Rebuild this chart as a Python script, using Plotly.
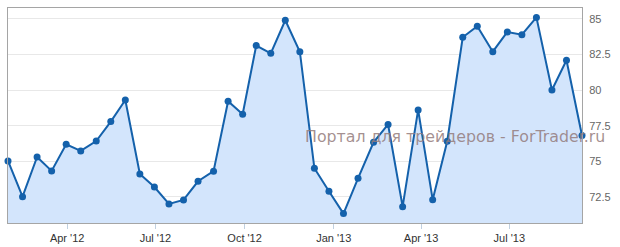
import plotly.graph_objects as go

dates = ["2012-01-31", "2012-02-15", "2012-03-01", "2012-03-16", "2012-03-31",
         "2012-04-15", "2012-05-01", "2012-05-16", "2012-05-31", "2012-06-15",
         "2012-06-30", "2012-07-15", "2012-07-30", "2012-08-14", "2012-08-30",
         "2012-09-14", "2012-09-29", "2012-10-13", "2012-10-28", "2012-11-12",
         "2012-11-27", "2012-12-12", "2012-12-27", "2013-01-11", "2013-01-26",
         "2013-02-11", "2013-02-26", "2013-03-13", "2013-03-29", "2013-04-13",
         "2013-04-28", "2013-05-14", "2013-05-29", "2013-06-14", "2013-06-29",
         "2013-07-14", "2013-07-29", "2013-08-14", "2013-08-29", "2013-09-14"]

values = [75.03, 72.52, 75.31, 74.33, 76.20, 75.73, 76.43, 77.79, 79.31, 74.12,
          73.20, 72.01, 72.29, 73.60, 74.31, 79.22, 78.31, 83.13, 82.59, 84.91,
          82.70, 74.52, 72.90, 71.33, 73.81, 76.34, 77.59, 71.82, 78.61, 72.31,
          76.41, 83.71, 84.49, 82.70, 84.09, 83.90, 85.11, 80.01, 82.10, 76.81]

x_tick_vals = ["2012-04-01", "2012-07-01", "2012-10-01", "2013-01-01", "2013-04-01", "2013-07-01"]
x_tick_text = ["Apr '12", "Jul '12", "Oct '12", "Jan '13", "Apr '13", "Jul '13"]
y_tick_vals = [72.5, 75, 77.5, 80, 82.5, 85]
y_tick_text = ["72.5", "75", "77.5", "80", "82.5", "85"]
y_range = [70.67, 85.77]

watermark = "Портал для трейдеров - ForTrader.ru"

fig = go.Figure()
fig.add_trace(go.Scatter(
    x=dates, y=values, mode="lines+markers",
    line=dict(color="#1461ab", width=2),
    marker=dict(color="#1461ab", size=7),
    fill="tozeroy", fillcolor="#d3e5fc",
    cliponaxis=False, showlegend=False, hoverinfo="x+y",
))

fig.update_layout(
    width=620, height=247,
    margin=dict(l=8, r=38, t=8, b=24, autoexpand=False),
    paper_bgcolor="white", plot_bgcolor="white",
    font=dict(family="Liberation Sans, Arial, sans-serif", size=11, color="#666666"),
    xaxis=dict(
        type="date", range=[dates[0], dates[-1]], automargin=False,
        tickmode="array", tickvals=x_tick_vals, ticktext=x_tick_text,
        ticks="outside", ticklen=5, tickcolor="#c0d0e0", tickwidth=1,
        tickfont=dict(color="#333333", size=11),
        showgrid=False, zeroline=False,
        showline=True, linecolor="#a5a5a5", linewidth=1, mirror=True,
    ),
    yaxis=dict(
        side="right", range=y_range, automargin=False,
        tickmode="array", tickvals=y_tick_vals, ticktext=y_tick_text,
        ticks="", ticklabelstandoff=4,
        tickfont=dict(color="#666666", size=11),
        showgrid=True, gridcolor="#e8e8e8", gridwidth=1, zeroline=False,
        showline=True, linecolor="#a5a5a5", linewidth=1, mirror=True,
    ),
    annotations=[dict(
        text=watermark, xref="paper", yref="paper",
        x=(303 - 8) / 574, y=(223 - 136) / 215, xanchor="left", yanchor="middle",
        showarrow=False,
        font=dict(family="DejaVu Sans, sans-serif", size=15.8, color="rgba(148,124,124,0.85)"),
    )],
)

fig.write_html("out.html")
